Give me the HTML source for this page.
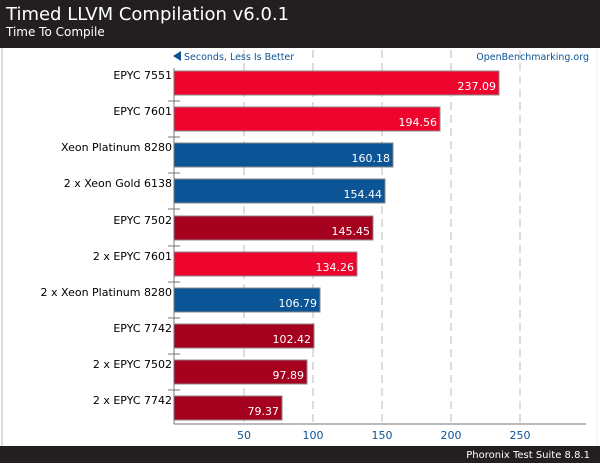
<!DOCTYPE html>
<html><head><style>
body{margin:0;width:600px;height:463px;overflow:hidden;background:#fff;font-family:"DejaVu Sans","Liberation Sans",sans-serif;}
</style></head><body>
<svg width="600" height="463" xmlns="http://www.w3.org/2000/svg" font-family="DejaVu Sans, Liberation Sans, sans-serif">
<rect x="0" y="0" width="600" height="48" fill="#231f20"/>
<text x="6" y="20" font-size="18" fill="#fff">Timed LLVM Compilation v6.0.1</text>
<text x="6" y="36" font-size="12" fill="#fff">Time To Compile</text>
<rect x="0" y="48" width="600" height="398" fill="#fff"/>
<line x1="2" y1="48" x2="2" y2="446" stroke="#bbb"/>
<line x1="597" y1="48" x2="597" y2="446" stroke="#eee"/>
<g stroke="#bbb" stroke-dasharray="8,5">
<line x1="244" y1="50" x2="244" y2="424"/><line x1="313" y1="50" x2="313" y2="424"/><line x1="382" y1="50" x2="382" y2="424"/><line x1="451" y1="50" x2="451" y2="424"/><line x1="520" y1="50" x2="520" y2="424"/>
</g>
<polygon points="173,56 181,51 181,61" fill="#0b5596"/>
<text x="184" y="60" font-size="9.5" fill="#0b5596">Seconds, Less Is Better</text>
<text x="589" y="60" font-size="9.5" fill="#0b5596" text-anchor="end">OpenBenchmarking.org</text>
<g font-size="11" text-anchor="end" fill="#000">
<text x="172" y="79">EPYC 7551</text>
<text x="172" y="115">EPYC 7601</text>
<text x="172" y="151">Xeon Platinum 8280</text>
<text x="172" y="187">2 x Xeon Gold 6138</text>
<text x="172" y="224">EPYC 7502</text>
<text x="172" y="260">2 x EPYC 7601</text>
<text x="172" y="296">2 x Xeon Platinum 8280</text>
<text x="172" y="332">EPYC 7742</text>
<text x="172" y="368">2 x EPYC 7502</text>
<text x="172" y="404">2 x EPYC 7742</text>
</g>
<g stroke="#888" stroke-width="1">
<rect x="174" y="71" width="325" height="24" fill="#ee052d"/>
<rect x="174" y="107" width="266" height="24" fill="#ee052d"/>
<rect x="174" y="143" width="219" height="24" fill="#0b5596"/>
<rect x="174" y="179" width="211" height="24" fill="#0b5596"/>
<rect x="174" y="216" width="199" height="24" fill="#a6001f"/>
<rect x="174" y="252" width="183" height="24" fill="#ee052d"/>
<rect x="174" y="288" width="146" height="24" fill="#0b5596"/>
<rect x="174" y="324" width="140" height="24" fill="#a6001f"/>
<rect x="174" y="360" width="133" height="24" fill="#a6001f"/>
<rect x="174" y="396" width="108" height="24" fill="#a6001f"/>
</g>
<g font-size="11" text-anchor="end" fill="#fff">
<text x="496" y="90">237.09</text>
<text x="437" y="126">194.56</text>
<text x="390" y="162">160.18</text>
<text x="382" y="198">154.44</text>
<text x="370" y="235">145.45</text>
<text x="354" y="271">134.26</text>
<text x="317" y="307">106.79</text>
<text x="311" y="343">102.42</text>
<text x="304" y="379">97.89</text>
<text x="279" y="415">79.37</text>
</g>
<g stroke="#777">
<line x1="174" y1="68" x2="174" y2="424"/>
<line x1="174" y1="424" x2="586" y2="424"/>
<line x1="168" y1="101" x2="180" y2="101"/><line x1="168" y1="137" x2="180" y2="137"/><line x1="168" y1="173" x2="180" y2="173"/><line x1="168" y1="209" x2="180" y2="209"/><line x1="168" y1="246" x2="180" y2="246"/><line x1="168" y1="282" x2="180" y2="282"/><line x1="168" y1="318" x2="180" y2="318"/><line x1="168" y1="354" x2="180" y2="354"/><line x1="168" y1="390" x2="180" y2="390"/>
</g>
<g font-size="11" text-anchor="middle" fill="#0b5596">
<text x="244" y="439">50</text><text x="313" y="439">100</text><text x="382" y="439">150</text><text x="451" y="439">200</text><text x="520" y="439">250</text>
</g>
<rect x="0" y="446" width="600" height="17" fill="#231f20"/>
<text x="590" y="458" font-size="10" fill="#fff" text-anchor="end">Phoronix Test Suite 8.8.1</text>
</svg>
</body></html>
